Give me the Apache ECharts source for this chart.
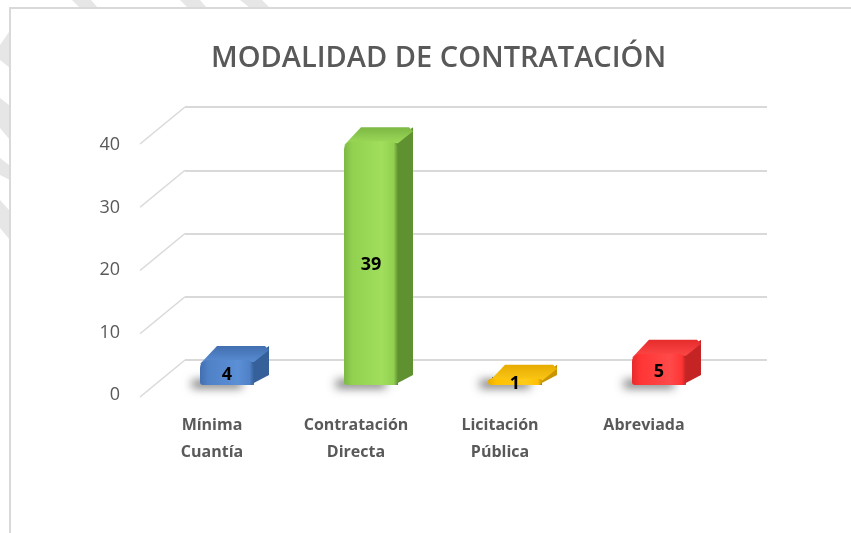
<!DOCTYPE html>
<html>
<head>
<meta charset="utf-8">
<script src="https://cdn.jsdelivr.net/npm/echarts@6/dist/echarts.min.js"></script>
<style>
  html, body { margin: 0; padding: 0; background: #ffffff; }
  #chart { width: 851px; height: 533px; }
</style>
</head>
<body>
<div id="chart"></div>
<script>
// ---- data ----
const titleText = 'MODALIDAD DE CONTRATACIÓN';
const categories = ['Mínima\nCuantía', 'Contratación\nDirecta', 'Licitación\nPública', 'Abreviada'];
const values = [4, 39, 1, 5];
const yTicks = [0, 10, 20, 30, 40];

// ---- styles ----
const barPalette = [
  { front: '#4f81c6', light: '#5b8fd6', side: '#35609a', top: '#426fb0' },
  { front: '#92d050', light: '#a0de5c', side: '#5f9130', top: '#7cb843' },
  { front: '#ffc000', light: '#ffcb1a', side: '#c99500', top: '#e6ac00' },
  { front: '#ff3535', light: '#ff4a4a', side: '#c42424', top: '#e62b2b' }
];
const FONT = '"Open Sans", "Noto Sans", sans-serif';
const DEPTH_X = 15, DEPTH_Y = -14, BAR_W = 54, SHIFT_X = 15, SHIFT_Y = -10;
const WALL_DX = 45, WALL_DY = -37;

const chart = echarts.init(document.getElementById('chart'), null, { renderer: 'canvas' });

function barItem(params, api) {
  const idx = api.value(0);
  const val = api.value(1);
  const base = api.coord([idx, 0]);
  const top = api.coord([idx, val]);
  const c = barPalette[params.dataIndex % barPalette.length];
  const cx = base[0] + SHIFT_X;
  const x0 = cx - BAR_W / 2, x1 = cx + BAR_W / 2;
  const yb = base[1] + SHIFT_Y, yt = top[1] + SHIFT_Y;
  const h = Math.max(yb - yt, 1);
  return {
    type: 'group',
    children: [
      { // base shadow caster (hidden behind the bar)
        type: 'rect',
        shape: { x: x0 + 4, y: yb - 8, width: BAR_W - 4, height: 8 },
        style: { fill: '#777', shadowBlur: 10, shadowColor: 'rgba(0,0,0,0.55)', shadowOffsetX: -12, shadowOffsetY: 3 }
      },
      { // side face
        type: 'polygon',
        shape: { points: [[x1 - 4, yt], [x1 + DEPTH_X, yt + DEPTH_Y], [x1 + DEPTH_X, yb + DEPTH_Y + 4], [x1 - 4, yb]] },
        style: { fill: c.side }
      },
      { // top face
        type: 'polygon',
        shape: { points: [[x0, yt + 4], [x0 + DEPTH_X + 2, yt + DEPTH_Y], [x1 + DEPTH_X - 4, yt + DEPTH_Y], [x1 + DEPTH_X, yt + DEPTH_Y + 4], [x1, yt + 2]] },
        style: {
          fill: new echarts.graphic.LinearGradient(0, 1, 0, 0, [
            { offset: 0, color: c.light }, { offset: 1, color: c.top }
          ])
        }
      },
      { // front face
        type: 'rect',
        shape: { x: x0, y: yt, width: BAR_W, height: h, r: [Math.min(8, h / 2), Math.min(8, h / 2), 3, 3] },
        style: {
          fill: new echarts.graphic.LinearGradient(0, 0, 1, 0, [
            { offset: 0, color: c.top },
            { offset: 0.15, color: c.front },
            { offset: 0.7, color: c.light },
            { offset: 0.92, color: c.front },
            { offset: 1, color: c.side }
          ])
        }
      },
      { // value label
        type: 'text',
        x: cx, y: (yt + yb) / 2 + 2,
        style: {
          text: String(val), align: 'center', verticalAlign: 'middle',
          fill: '#000000', font: 'bold 18px ' + FONT
        }
      }
    ]
  };
}

function diagItem(params, api) {
  const v = api.value(1);
  const b = api.coord([0, v]);
  return {
    type: 'line',
    shape: { x1: b[0], y1: b[1], x2: b[0] - WALL_DX, y2: b[1] - WALL_DY },
    style: { stroke: '#d9d9d9', lineWidth: 1.5 }
  };
}

const watermark = [
  [[72, 0], [91, 0], [98, 8], [80, 8]],
  [[180, 0], [200, 0], [207, 8], [188, 8]],
  [[240, 0], [262, 0], [270, 8], [250, 8]],
  [[0, 45], [9, 32], [10, 68], [0, 60]],
  [[0, 98], [9, 105], [10, 140], [0, 128]],
  [[0, 158], [9, 165], [10, 180], [0, 175]],
  [[0, 200], [9, 210], [10, 240], [0, 228]]
].map(pts => ({ type: 'polygon', shape: { points: pts }, style: { fill: '#e6e6e6' }, silent: true }));

const option = {
  backgroundColor: '#ffffff',
  animation: false,
  title: {
    text: titleText,
    left: 206,
    top: 39,
    textStyle: { fontFamily: FONT, fontSize: 29, fontWeight: 600, color: '#595959' }
  },
  graphic: watermark.concat([
    {
      type: 'polyline',
      shape: { points: [[851, 8], [10, 8], [10, 533]] },
      style: { stroke: '#d9d9d9', lineWidth: 2, fill: null },
      silent: true
    }
  ]),
  grid: [
    { left: 140, right: 135, top: 145, bottom: 138 },
    { left: 185, right: 84, top: 107, bottom: 173 }
  ],
  xAxis: [
    {
      type: 'category', gridIndex: 0, data: categories,
      axisLine: { show: false }, axisTick: { show: false },
      axisLabel: {
        interval: 0, margin: 17, color: '#595959', fontFamily: FONT,
        fontSize: 16, fontWeight: 'bold', lineHeight: 27
      }
    },
    { type: 'value', gridIndex: 1, min: 0, max: 1, show: false }
  ],
  yAxis: [
    {
      type: 'value', gridIndex: 0, min: 0, max: 40, interval: 10,
      axisLine: { show: false }, axisTick: { show: false }, splitLine: { show: false },
      axisLabel: { margin: 20, color: '#595959', fontFamily: FONT, fontSize: 18 }
    },
    {
      type: 'value', gridIndex: 1, min: 0, max: 40, interval: 10,
      axisLine: { show: false }, axisTick: { show: false }, axisLabel: { show: false },
      splitLine: { show: true, lineStyle: { color: '#d9d9d9', width: 2 } }
    }
  ],
  series: [
    {
      type: 'custom', xAxisIndex: 1, yAxisIndex: 1,
      renderItem: diagItem,
      data: yTicks.map(v => [0, v]),
      silent: true, z: 1
    },
    {
      type: 'custom', xAxisIndex: 0, yAxisIndex: 0,
      renderItem: barItem,
      data: values.map((v, i) => [i, v]),
      z: 5
    }
  ]
};
chart.setOption(option);
</script>
</body>
</html>
